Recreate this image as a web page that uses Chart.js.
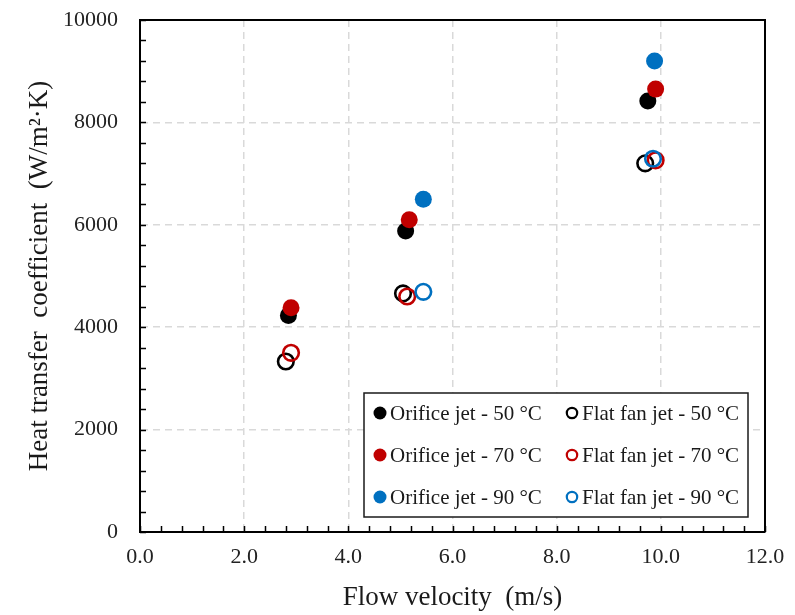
<!DOCTYPE html>
<html>
<head>
<meta charset="utf-8">
<title>Heat transfer coefficient vs flow velocity</title>
<script src="https://cdn.jsdelivr.net/npm/chart.js@4.4.1/dist/chart.umd.min.js"></script>
<style>
  html, body { margin: 0; padding: 0; background: #fff; }
  #wrap { width: 795px; height: 615px; }
</style>
</head>
<body>
<div id="wrap"><canvas id="chart" width="795" height="615"></canvas></div>
<script>
// Flow velocity (m/s) / heat transfer coefficient (W/m2K)
const orificeVel50 = [2.85, 5.1, 9.75]
const orificeHtc50 = [4230, 5880, 8420]
const orificeVel70 = [2.9, 5.17, 9.9]
const orificeHtc70 = [4380, 6100, 8650]
const orificeVel90 = [5.44, 9.88]
const orificeHtc90 = [6500, 9200]

const flatVel50 = [2.8, 5.05, 9.7]
const flatHtc50 = [3330, 4660, 7200]
const flatVel70 = [2.9, 5.13, 9.9]
const flatHtc70 = [3500, 4600, 7260]
const flatVel90 = [5.44, 9.85]
const flatHtc90 = [4690, 7290]

const xTicks = [0, 2, 4, 6, 8, 10, 12]
const yTicks = [0, 2000, 4000, 6000, 8000, 10000]

const BLACK = '#000000'
const RED = '#c00000'
const BLUE = '#0070c0'
const SERIF = "'Liberation Serif', 'Times New Roman', serif"

const toPoints = (xs, ys) => xs.map((x, i) => ({ x: x, y: ys[i] }))

const makeSet = (label, xs, ys, color, filled, order) => ({
    label: label,
    data: toPoints(xs, ys),
    backgroundColor: filled ? color : 'rgba(0,0,0,0)',
    borderColor: color,
    borderWidth: filled ? 0 : 2.6,
    pointRadius: filled ? 8.5 : 7.8,
    pointHoverRadius: filled ? 8.5 : 7.8,
    filled: filled,
    order: order
})

const datasets = [
    makeSet('Orifice jet - 50 °C', orificeVel50, orificeHtc50, BLACK, true, 3),
    makeSet('Orifice jet - 70 °C', orificeVel70, orificeHtc70, RED, true, 2),
    makeSet('Orifice jet - 90 °C', orificeVel90, orificeHtc90, BLUE, true, 1),
    makeSet('Flat fan jet - 50 °C', flatVel50, flatHtc50, BLACK, false, 6),
    makeSet('Flat fan jet - 70 °C', flatVel70, flatHtc70, RED, false, 5),
    makeSet('Flat fan jet - 90 °C', flatVel90, flatHtc90, BLUE, false, 4)
]

// box border on top/right, inward minor ticks and the boxed legend
const framePlugin = {
    id: 'frame',
    afterDraw(chart) {
        const ctx = chart.ctx
        const area = chart.chartArea
        const xs = chart.scales.x
        const ys = chart.scales.y

        ctx.save()
        ctx.strokeStyle = BLACK
        ctx.lineWidth = 2
        ctx.beginPath()
        ctx.moveTo(area.left, area.top)
        ctx.lineTo(area.right, area.top)
        ctx.lineTo(area.right, area.bottom)
        ctx.stroke()

        ctx.lineWidth = 1.5
        ctx.beginPath()
        for (let v = 0; v <= 12.0001; v += 0.4) {
            const px = Math.round(xs.getPixelForValue(v)) + 0.5
            ctx.moveTo(px, area.bottom)
            ctx.lineTo(px, area.bottom - 6)
        }
        for (let v = 0; v <= 10000; v += 400) {
            const py = Math.round(ys.getPixelForValue(v)) + 0.5
            ctx.moveTo(area.left, py)
            ctx.lineTo(area.left + 6, py)
        }
        ctx.stroke()

        // legend
        const boxW = 384
        const boxH = 124
        const left = area.right - 401
        const top = area.bottom - 139
        ctx.fillStyle = '#ffffff'
        ctx.fillRect(left, top, boxW, boxH)
        ctx.strokeStyle = '#1a1a1a'
        ctx.lineWidth = 1.5
        ctx.strokeRect(left, top, boxW, boxH)

        ctx.font = '21px ' + SERIF
        ctx.textBaseline = 'middle'
        ctx.textAlign = 'left'
        const sets = chart.data.datasets
        const orifice = sets.filter(d => d.filled)
        const flat = sets.filter(d => !d.filled)
        const cols = [{ list: orifice, mx: left + 16 }, { list: flat, mx: left + 208 }]
        cols.forEach(col => {
            col.list.forEach((d, i) => {
                const cy = top + 20 + i * 42
                ctx.beginPath()
                if (d.filled) {
                    ctx.arc(col.mx, cy, 6.5, 0, Math.PI * 2)
                    ctx.fillStyle = d.borderColor
                    ctx.fill()
                } else {
                    ctx.arc(col.mx, cy, 5.2, 0, Math.PI * 2)
                    ctx.strokeStyle = d.borderColor
                    ctx.lineWidth = 2.2
                    ctx.stroke()
                }
                ctx.fillStyle = '#1a1a1a'
                ctx.fillText(d.label, col.mx + 10, cy + 1)
            })
        })
        ctx.restore()
    }
}

Chart.defaults.font.family = SERIF
Chart.defaults.color = '#222222'

const ctx = document.getElementById('chart').getContext('2d')
const chart = new Chart(ctx, {
    type: 'scatter',
    data: { datasets: datasets },
    plugins: [framePlugin],
    options: {
        responsive: false,
        animation: false,
        devicePixelRatio: 1,
        layout: { padding: { left: 0, right: 30, top: 20, bottom: 0 } },
        plugins: {
            legend: { display: false },
            tooltip: { enabled: false }
        },
        scales: {
            x: {
                type: 'linear',
                min: 0,
                max: 12,
                afterBuildTicks: axis => { axis.ticks = xTicks.map(v => ({ value: v })) },
                afterFit: axis => {
                    axis.height = 83
                    axis.paddingLeft = 0
                    axis.paddingRight = 0
                },
                ticks: {
                    font: { size: 22 },
                    padding: 12,
                    maxRotation: 0,
                    callback: v => v.toFixed(1)
                },
                grid: { color: '#d9d9d9', lineWidth: 1.5, drawTicks: false },
                border: { color: BLACK, width: 2, dash: [7, 5] },
                title: {
                    display: true,
                    text: 'Flow velocity  (m/s)',
                    font: { size: 27 },
                    color: '#1a1a1a',
                    padding: { top: 0, bottom: 1 }
                }
            },
            y: {
                type: 'linear',
                min: 0,
                max: 10000,
                afterBuildTicks: axis => { axis.ticks = yTicks.map(v => ({ value: v })) },
                afterFit: axis => {
                    axis.width = 140
                    axis.paddingTop = 0
                    axis.paddingBottom = 0
                },
                ticks: {
                    font: { size: 22 },
                    padding: 22,
                    callback: v => String(v)
                },
                grid: { color: '#d9d9d9', lineWidth: 1.5, drawTicks: false },
                border: { color: BLACK, width: 2, dash: [7, 5] },
                title: {
                    display: true,
                    text: 'Heat transfer  coefficient  (W/m²·K)',
                    font: { size: 27 },
                    color: '#1a1a1a',
                    padding: { top: 24, bottom: 0 }
                }
            }
        }
    }
})
</script>
</body>
</html>
